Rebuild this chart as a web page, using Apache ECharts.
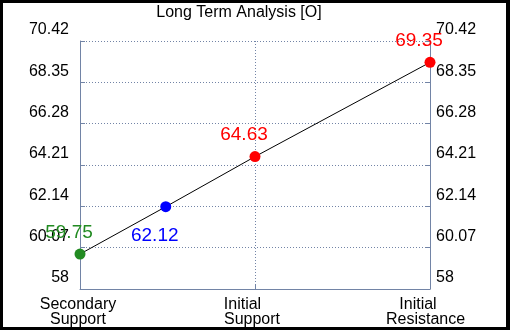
<!DOCTYPE html>
<html>
<head>
<meta charset="utf-8">
<script src="https://cdn.jsdelivr.net/npm/echarts@6/dist/echarts.min.js"></script>
<style>
html,body{margin:0;padding:0;background:#fff;}
#chart{width:510px;height:330px;}
</style>
</head>
<body>
<div id="chart"></div>
<script>
var titleText = 'Long Term Analysis [O]';
var categoryLines = [['Secondary', 'Support'], ['Initial', 'Support'], ['Initial', 'Resistance']];
var categoryPos = [0, 1, 2];
var pointNames = ['Secondary Support', 'Midpoint', 'Initial Support', 'Initial Resistance'];
var pointX = [0, 0.49, 1, 2];
var pointValues = [59.75, 62.12, 64.63, 69.35];
var pointColors = ['#228b22', '#0000ff', '#ff0000', '#ff0000'];
var yTicks = [58, 60.07, 62.14, 64.21, 66.28, 68.35, 70.42];
var yTickLabels = ['58', '60.07', '62.14', '64.21', '66.28', '68.35', '70.42'];

// style-only settings
var labelOffsets = [[-11, -21], [-11, 29], [-11, -22], [-11, -22]];
var lineShiftPads = [[4, 4], [25, 6], [24, 9]];

var FONT = '"Liberation Sans", Arial, sans-serif';
var AXIS_COLOR = '#7284a6';

var seriesData = pointValues.map(function (v, i) {
  return {
    name: pointNames[i],
    value: [pointX[i], v],
    itemStyle: { color: pointColors[i] },
    label: {
      show: true,
      position: 'inside',
      offset: labelOffsets[i],
      color: pointColors[i],
      fontSize: 19,
      fontFamily: FONT,
      formatter: function (p) { return p.value[1].toFixed(2); }
    }
  };
});

var xRich = {};
lineShiftPads.forEach(function (pads, i) {
  pads.forEach(function (pr, j) {
    xRich['c' + i + 'l' + j] = {
      fontSize: 16, fontFamily: FONT, color: '#000', lineHeight: 15,
      padding: [0, pr, 0, 0]
    };
  });
});

function yAxisDef(pos) {
  return {
    type: 'value',
    position: pos,
    min: yTicks[0],
    max: yTicks[yTicks.length - 1],
    axisLine: { show: true, lineStyle: { color: AXIS_COLOR, width: 1 } },
    axisTick: { show: true, inside: true, length: 5, customValues: yTicks, lineStyle: { color: AXIS_COLOR } },
    splitLine: { show: pos === 'left', lineStyle: { color: AXIS_COLOR, type: [1, 2], width: 1 } },
    axisLabel: {
      customValues: yTicks,
      color: '#000',
      fontSize: 16,
      fontFamily: FONT,
      margin: pos === 'left' ? 11 : 6,
      verticalAlign: 'bottom',
      lineHeight: 16,
      padding: [0, 0, 3, 0],
      formatter: function (v) {
        var idx = yTicks.indexOf(v);
        return idx >= 0 ? yTickLabels[idx] : '';
      }
    }
  };
}

var chart = echarts.init(document.getElementById('chart'), null, { renderer: 'canvas' });
chart.setOption({
  backgroundColor: '#fff',
  animation: false,
  title: {
    text: titleText,
    left: 234,
    top: 0,
    textAlign: 'center',
    textStyle: { fontSize: 16, fontWeight: 'normal', color: '#000', fontFamily: FONT }
  },
  grid: { left: 80, right: 80, top: 41, bottom: 41, containLabel: false },
  xAxis: {
    type: 'value',
    min: 0,
    max: 2,
    interval: 1,
    axisLine: { show: true, lineStyle: { color: AXIS_COLOR, width: 1 } },
    axisTick: { show: true, inside: true, length: 5, lineStyle: { color: AXIS_COLOR } },
    splitLine: { show: true, lineStyle: { color: AXIS_COLOR, type: [1, 2], width: 1 } },
    axisLabel: {
      color: '#000',
      fontSize: 16,
      fontFamily: FONT,
      lineHeight: 15,
      margin: 8,
      rich: xRich,
      formatter: function (v) {
        var idx = categoryPos.indexOf(v);
        if (idx < 0) return '';
        return categoryLines[idx].map(function (t, j) {
          return '{c' + idx + 'l' + j + '|' + t + '}';
        }).join('\n');
      }
    }
  },
  yAxis: [yAxisDef('left'), yAxisDef('right')],
  series: [{
    type: 'line',
    data: seriesData,
    symbol: 'circle',
    symbolSize: 11,
    lineStyle: { color: '#000', width: 1 },
    z: 5
  }],
  graphic: [
    { type: 'rect', shape: { x: 0, y: 0, width: 510, height: 3 }, style: { fill: '#000' }, z: 100 },
    { type: 'rect', shape: { x: 0, y: 327, width: 510, height: 3 }, style: { fill: '#000' }, z: 100 },
    { type: 'rect', shape: { x: 0, y: 0, width: 3, height: 330 }, style: { fill: '#000' }, z: 100 },
    { type: 'rect', shape: { x: 506, y: 0, width: 4, height: 330 }, style: { fill: '#000' }, z: 100 }
  ]
});
</script>
</body>
</html>
